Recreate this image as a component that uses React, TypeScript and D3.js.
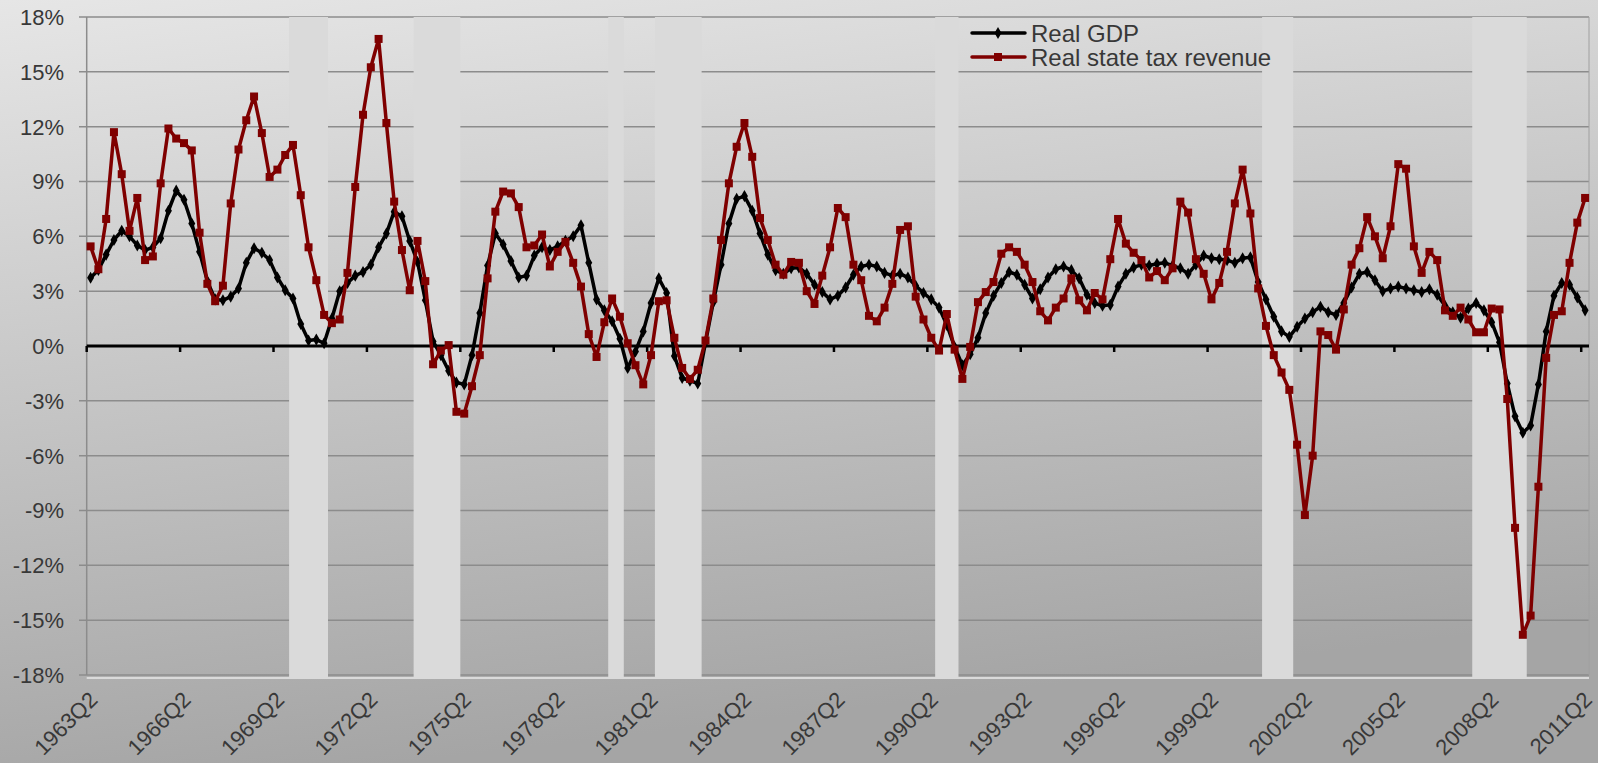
import React, { useEffect, useRef } from 'react';
import * as d3 from 'd3';

// quarterly year-over-year growth, 1963Q2 .. 2011Q2
const realGDP = [
  3.73, 4.16, 5.0, 5.8, 6.3, 6.0, 5.5, 5.25, 5.4, 5.9,
  7.4, 8.5, 8.0, 6.7, 5.15, 3.55, 2.55, 2.5, 2.7, 3.15,
  4.55, 5.35, 5.1, 4.7, 3.75, 3.05, 2.6, 1.2, 0.3, 0.35,
  0.15, 1.5, 3.0, 3.45, 3.85, 4.05, 4.45, 5.4, 6.15, 7.35,
  7.1, 5.75, 4.6, 2.5, 0.25, -0.5, -1.35, -2.0, -2.1, -0.5,
  1.8, 4.4, 6.15, 5.55, 4.65, 3.75, 3.85, 4.95, 5.4, 5.25,
  5.45, 5.75, 6.0, 6.6, 4.55, 2.55, 1.95, 1.35, 0.4, -1.2,
  -0.3, 0.8, 2.35, 3.7, 2.9, -0.55, -1.75, -1.9, -2.05, 0.2,
  2.4, 4.45, 6.7, 8.05, 8.2, 7.4, 6.15, 5.0, 4.15, 3.95,
  4.25, 4.3, 3.95, 3.35, 2.95, 2.55, 2.75, 3.2, 3.9, 4.35,
  4.45, 4.35, 4.0, 3.85, 3.95, 3.75, 3.3, 2.9, 2.55, 2.1,
  1.15, -0.05, -1.05, -0.45, 0.45, 1.8, 2.75, 3.45, 4.05, 3.9,
  3.35, 2.6, 3.1, 3.75, 4.2, 4.35, 4.15, 3.7, 2.8, 2.35,
  2.2, 2.25, 3.25, 3.95, 4.3, 4.45, 4.4, 4.5, 4.55, 4.4,
  4.25, 3.95, 4.45, 4.95, 4.8, 4.75, 4.7, 4.55, 4.8, 4.85,
  3.5, 2.55, 1.6, 0.8, 0.5, 1.05, 1.5, 1.85, 2.15, 1.85,
  1.7, 2.35, 3.2, 3.95, 4.05, 3.6, 3.0, 3.15, 3.25, 3.15,
  3.05, 2.95, 3.1, 2.8, 2.2, 1.85, 1.55, 2.05, 2.35, 1.95,
  1.3, 0.2, -2.05, -3.85, -4.75, -4.35, -2.1, 0.8, 2.75, 3.45,
  3.35, 2.65, 1.95,
];

const realStateTax = [
  5.45, 4.2, 6.95, 11.7, 9.4, 6.3, 8.1, 4.7, 4.9, 8.9,
  11.9, 11.35, 11.1, 10.7, 6.2, 3.4, 2.45, 3.3, 7.8, 10.75,
  12.35, 13.65, 11.65, 9.25, 9.65, 10.45, 11.0, 8.25, 5.4, 3.6,
  1.7, 1.25, 1.45, 4.0, 8.7, 12.65, 15.25, 16.8, 12.2, 7.9,
  5.25, 3.05, 5.75, 3.55, -1.0, -0.25, 0.05, -3.6, -3.7, -2.2,
  -0.5, 3.7, 7.35, 8.45, 8.35, 7.6, 5.4, 5.5, 6.1, 4.35,
  5.15, 5.7, 4.55, 3.25, 0.65, -0.6, 1.3, 2.6, 1.6, 0.15,
  -1.05, -2.1, -0.5, 2.45, 2.5, 0.45, -1.2, -1.8, -1.3, 0.3,
  2.6, 5.8, 8.9, 10.9, 12.2, 10.35, 7.0, 5.8, 4.45, 3.9,
  4.6, 4.55, 3.0, 2.3, 3.85, 5.4, 7.55, 7.05, 4.45, 3.6,
  1.65, 1.35, 2.1, 3.4, 6.35, 6.55, 2.7, 1.45, 0.45, -0.25,
  1.75, -0.2, -1.8, -0.05, 2.4, 2.95, 3.5, 5.05, 5.4, 5.15,
  4.45, 3.5, 1.9, 1.4, 2.1, 2.6, 3.7, 2.5, 1.95, 2.9,
  2.55, 4.75, 6.95, 5.6, 5.1, 4.7, 3.75, 4.1, 3.6, 4.25,
  7.9, 7.3, 4.75, 3.95, 2.55, 3.45, 5.15, 7.8, 9.65, 7.25,
  3.15, 1.1, -0.5, -1.45, -2.4, -5.4, -9.25, -6.0, 0.8, 0.6,
  -0.2, 2.0, 4.45, 5.35, 7.05, 6.0, 4.8, 6.55, 9.95, 9.7,
  5.45, 4.0, 5.15, 4.7, 1.95, 1.65, 2.1, 1.45, 0.75, 0.75,
  2.05, 2.0, -2.9, -9.95, -15.8, -14.75, -7.7, -0.65, 1.7, 1.9,
  4.55, 6.75, 8.1,
];

const xTickLabels = [
  '1963Q2', '1966Q2', '1969Q2', '1972Q2', '1975Q2', '1978Q2', '1981Q2', '1984Q2', '1987Q2',
  '1990Q2', '1993Q2', '1996Q2', '1999Q2', '2002Q2', '2005Q2', '2008Q2', '2011Q2',
];

const yTicks = [-18, -15, -12, -9, -6, -3, 0, 3, 6, 9, 12, 15, 18];

// recession quarters, first and last (inclusive)
const recessions: [string, string][] = [
  ['1969Q4', '1970Q4'],
  ['1973Q4', '1975Q1'],
  ['1980Q1', '1980Q2'],
  ['1981Q3', '1982Q4'],
  ['1990Q3', '1991Q1'],
  ['2001Q1', '2001Q4'],
  ['2007Q4', '2009Q2'],
];

const quarters: string[] = [];
for (let y = 1963; y <= 2011; y++) {
  for (let q = 1; q <= 4; q++) {
    if ((y === 1963 && q < 2) || (y === 2011 && q > 2)) continue;
    quarters.push(`${y}Q${q}`);
  }
}

const W = 1598;
const H = 763;
const FONT = 'Liberation Sans, Arial, sans-serif';
const RED = '#7f0000';

const App: React.FC = () => {
  const svgRef = useRef<SVGSVGElement>(null);

  useEffect(() => {
    document.body.style.margin = '0';
    if (!svgRef.current) return;
    const svg = d3.select(svgRef.current).attr('width', W).attr('height', H);
    svg.selectAll('*').remove();

    const left = 86.7, right = 1589, top = 17, bottom = 675;

    const x = d3.scaleBand<string>().domain(quarters).range([left, right]).padding(0);
    const bw = x.bandwidth();
    const cx = (q: string) => (x(q) as number) + bw / 2;
    const y = d3.scaleLinear().domain([-18, 18]).range([bottom, top]);

    const defs = svg.append('defs');
    const bg = defs.append('linearGradient').attr('id', 'bg')
      .attr('x1', 0).attr('y1', 0).attr('x2', 0.25).attr('y2', 1);
    bg.append('stop').attr('offset', '0%').attr('stop-color', '#e6e6e6');
    bg.append('stop').attr('offset', '100%').attr('stop-color', '#a5a5a5');

    svg.append('rect').attr('width', W).attr('height', H).attr('fill', 'url(#bg)');

    // gridlines
    svg.append('g').selectAll('line')
      .data(yTicks.filter(t => t !== 0))
      .enter().append('line')
      .attr('x1', 79).attr('x2', right)
      .attr('y1', d => y(d)).attr('y2', d => y(d))
      .attr('stroke', '#8c8c8c').attr('stroke-width', 1.5);

    svg.append('line')
      .attr('x1', left).attr('x2', right).attr('y1', bottom + 3).attr('y2', bottom + 3)
      .attr('stroke', '#dadada').attr('stroke-width', 2);

    // recession bands
    svg.append('g').selectAll('rect')
      .data(recessions)
      .enter().append('rect')
      .attr('x', d => x(d[0]) as number)
      .attr('width', d => (x(d[1]) as number) + bw - (x(d[0]) as number))
      .attr('y', top)
      .attr('height', bottom - top + 4)
      .attr('fill', '#dadada');

    // axis lines
    svg.append('line')
      .attr('x1', left).attr('x2', left).attr('y1', top).attr('y2', bottom)
      .attr('stroke', '#8c8c8c').attr('stroke-width', 1.5);
    svg.append('line')
      .attr('x1', right).attr('x2', right).attr('y1', top).attr('y2', bottom)
      .attr('stroke', '#a0a0a0').attr('stroke-width', 1);

    svg.append('g').selectAll('text')
      .data(yTicks)
      .enter().append('text')
      .attr('x', 64).attr('y', d => y(d))
      .attr('dy', '0.36em')
      .attr('text-anchor', 'end')
      .attr('font-family', FONT).attr('font-size', 22).attr('fill', '#383838')
      .text(d => `${d}%`);

    // zero line with ticks
    const y0 = y(0);
    svg.append('line')
      .attr('x1', left).attr('x2', right).attr('y1', y0).attr('y2', y0)
      .attr('stroke', '#000').attr('stroke-width', 3);
    svg.append('g').selectAll('line')
      .data(d3.range(0, quarters.length + 1, 12))
      .enter().append('line')
      .attr('x1', d => left + d * bw).attr('x2', d => left + d * bw)
      .attr('y1', y0).attr('y2', y0 + 6)
      .attr('stroke', '#000').attr('stroke-width', 2.5);

    // x labels
    svg.append('g').selectAll('text')
      .data(xTickLabels)
      .enter().append('text')
      .attr('transform', d => `translate(${cx(d) - 3},690) rotate(-45)`)
      .attr('dy', '0.72em')
      .attr('text-anchor', 'end')
      .attr('font-family', FONT).attr('font-size', 22).attr('fill', '#383838')
      .text(d => d);

    const line = d3.line<number>()
      .x((_, i) => cx(quarters[i]))
      .y(d => y(d));

    // GDP
    svg.append('path').datum(realGDP)
      .attr('fill', 'none').attr('stroke', '#000').attr('stroke-width', 3.5)
      .attr('stroke-linejoin', 'round').attr('d', line);
    const diamond = d3.symbol().type(d3.symbolDiamond).size(42);
    svg.append('g').selectAll('path')
      .data(realGDP)
      .enter().append('path')
      .attr('d', diamond)
      .attr('transform', (d, i) => `translate(${cx(quarters[i])},${y(d)})`)
      .attr('fill', '#000');

    // tax revenue
    svg.append('path').datum(realStateTax)
      .attr('fill', 'none').attr('stroke', RED).attr('stroke-width', 3.5)
      .attr('stroke-linejoin', 'round').attr('d', line);
    svg.append('g').selectAll('rect')
      .data(realStateTax)
      .enter().append('rect')
      .attr('x', (d, i) => cx(quarters[i]) - 4)
      .attr('y', d => y(d) - 4)
      .attr('width', 8).attr('height', 8)
      .attr('fill', RED);

    // legend
    const legend = svg.append('g');
    const items = [
      { name: 'Real GDP', color: '#000', shape: 'diamond' },
      { name: 'Real state tax revenue', color: RED, shape: 'square' },
    ];
    items.forEach((it, i) => {
      const ly = 33 + i * 24;
      legend.append('line')
        .attr('x1', 972).attr('x2', 1025).attr('y1', ly).attr('y2', ly)
        .attr('stroke', it.color).attr('stroke-width', 3.5).attr('stroke-linecap', 'round');
      if (it.shape === 'diamond') {
        legend.append('path').attr('d', diamond)
          .attr('transform', `translate(998,${ly})`).attr('fill', it.color);
      } else {
        legend.append('rect').attr('x', 994).attr('y', ly - 4)
          .attr('width', 8).attr('height', 8).attr('fill', it.color);
      }
      legend.append('text')
        .attr('x', 1031).attr('y', ly).attr('dy', '0.36em')
        .attr('font-family', FONT).attr('font-size', 24).attr('fill', '#383838')
        .text(it.name);
    });
  }, []);

  return <svg ref={svgRef} style={{ display: 'block' }} />;
};

export default App;
